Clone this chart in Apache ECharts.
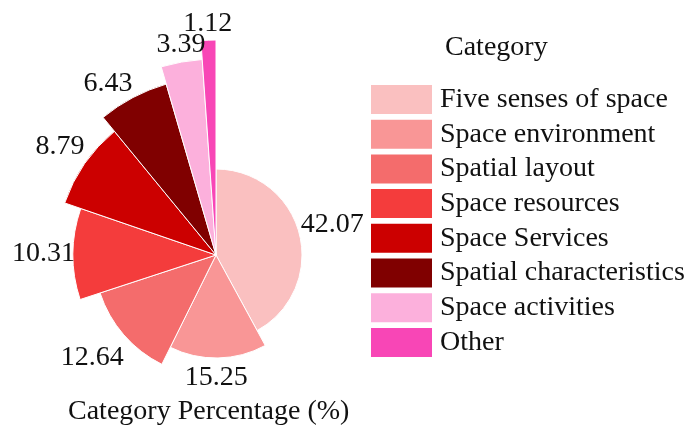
<!DOCTYPE html>
<html>
<head>
<meta charset="utf-8">
<script src="https://cdn.jsdelivr.net/npm/echarts@6/dist/echarts.min.js"></script>
<style>
  html, body { margin: 0; padding: 0; background: #fff; }
  #chart { width: 686px; height: 429px; }
</style>
</head>
<body>
<div id="chart"></div>
<script>
// Share of each category (%)
const categories = [
  'Five senses of space',
  'Space environment',
  'Spatial layout',
  'Space resources',
  'Space Services',
  'Spatial characteristics',
  'Space activities',
  'Other'
];
const percentages = [42.07, 15.25, 12.64, 10.31, 8.79, 6.43, 3.39, 1.12];

// Styling
const colors = ['#FAC0C0', '#F99696', '#F46C6C', '#F43C3C', '#CC0000', '#800000', '#FCB0DC', '#F846B6'];
const sliceRadius = [86, 103, 122, 143, 160, 178, 196, 215]; // outer radius of each wedge, px
const labelNudge = [[-2, 0], [-2, 3], [-5, 0], [4, 0], [0, 0], [-13, 9], [3, 2], [0, 0]]; // px offsets to keep labels apart
const CENTER = [216, 255];
const POLAR_R = 280;   // label frame; 1 radius unit = 1 px
const FONT = '"Liberation Serif", "Times New Roman", serif';
const FS = 28;
const LABEL_GAP = 2;
const TEXT_COLOR = '#111111';

const total = percentages.reduce((a, b) => a + b, 0);

// measure label text so labels sit just outside each wedge
const ctx = document.createElement('canvas').getContext('2d');
ctx.font = FS + 'px ' + FONT;
function textWidth(s) { return ctx.measureText(s).width; }

// one pie per wedge: every pie carries all values (so angles are shared),
// only its own wedge is painted
const pieSeries = categories.map((name, i) => ({
  type: 'pie',
  silent: true,
  center: CENTER,
  radius: [0, sliceRadius[i]],
  startAngle: 90,
  clockwise: true,
  label: { show: false },
  labelLine: { show: false },
  emphasis: { disabled: true },
  data: categories.map((n, j) => ({
    name: n,
    value: percentages[j],
    itemStyle: j === i
      ? { color: colors[j], borderColor: '#ffffff', borderWidth: 1 }
      : { color: 'rgba(0,0,0,0)', borderWidth: 0 }
  })),
  z: 2
}));

// value labels positioned in polar coordinates at each wedge's mid angle
let cum = 0;
const labelPoints = percentages.map((v, i) => {
  const mid = cum + v / 2;
  cum += v;
  const theta = mid / total * 2 * Math.PI;
  const txt = v.toFixed(2);
  const halfW = textWidth(txt) / 2;
  const halfH = FS / 2;
  const pad = LABEL_GAP + Math.abs(Math.sin(theta)) * halfW + Math.abs(Math.cos(theta)) * halfH;
  return {
    value: [sliceRadius[i] + pad, mid],
    label: { formatter: txt, offset: labelNudge[i] }
  };
});

const chart = echarts.init(document.getElementById('chart'), null, { renderer: 'canvas' });
chart.setOption({
  backgroundColor: '#ffffff',
  animation: false,
  textStyle: { fontFamily: FONT },
  title: [
    {
      text: 'Category',
      left: 440, top: 29,
      textStyle: { fontFamily: FONT, fontSize: FS, fontWeight: 'normal', color: TEXT_COLOR }
    },
    {
      text: 'Category Percentage (%)',
      left: 63, top: 393,
      textStyle: { fontFamily: FONT, fontSize: FS, fontWeight: 'normal', color: TEXT_COLOR }
    }
  ],
  legend: {
    orient: 'vertical',
    left: 371, top: 85,
    padding: 0,
    itemWidth: 61, itemHeight: 29, itemGap: 5.7,
    icon: 'rect',
    selectedMode: false,
    textStyle: { fontFamily: FONT, fontSize: FS, color: TEXT_COLOR, padding: [0, 0, 0, 3] },
    data: categories.map((n, i) => ({ name: n, itemStyle: { color: colors[i], opacity: 1, borderWidth: 0 } }))
  },
  polar: { center: CENTER, radius: POLAR_R },
  angleAxis: {
    type: 'value', min: 0, max: total, startAngle: 90, clockwise: true,
    axisLine: { show: false }, axisTick: { show: false }, axisLabel: { show: false }, splitLine: { show: false }
  },
  radiusAxis: {
    type: 'value', min: 0, max: POLAR_R,
    axisLine: { show: false }, axisTick: { show: false }, axisLabel: { show: false }, splitLine: { show: false }
  },
  series: pieSeries.concat([{
    type: 'scatter',
    coordinateSystem: 'polar',
    silent: true,
    clip: false,
    symbolSize: 0,
    itemStyle: { opacity: 1, color: 'rgba(0,0,0,0)' },
    z: 5,
    label: {
      show: true,
      position: 'inside',
      align: 'center',
      verticalAlign: 'middle',
      fontFamily: FONT,
      fontSize: FS,
      color: TEXT_COLOR,
      textBorderWidth: 0,
      textBorderColor: 'transparent'
    },
    data: labelPoints
  }])
});
</script>
</body>
</html>
